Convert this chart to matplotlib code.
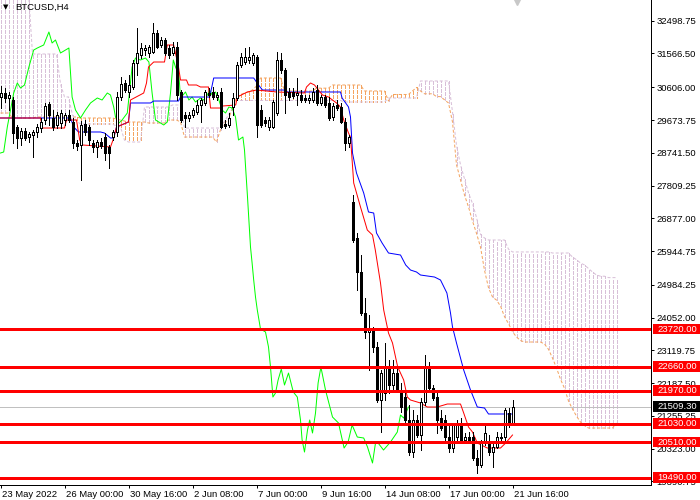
import matplotlib
matplotlib.use('Agg')
import matplotlib.pyplot as plt
from matplotlib.patches import Rectangle
from matplotlib.transforms import ScaledTranslation, blended_transform_factory
import numpy as np

plt.rcParams['font.family'] = ['Liberation Sans', 'DejaVu Sans']

symbol = 'BTCUSD,H4'

# H4 candles, bar 0 = 23 May 08:00 ... bar 128 = 21 Jun 16:00
opens = [30328, 30442, 30300, 30243, 29475, 29162, 29361, 29190, 29247, 29333,
         29446, 29674, 30129, 29731, 29532, 29589, 29674, 29816, 29617, 29020,
         28963, 29560, 29475, 29020, 28906, 29048, 29190, 28906, 29190, 29333,
         30328, 30727, 30471, 30613, 31296, 31523, 31665, 31580, 31609, 32149,
         31808, 31950, 31722, 31580, 31751, 30471, 29816, 29731, 29816, 29902,
         30101, 30158, 30442, 30471, 30328, 30471, 29560, 29532, 30044, 30300,
         31239, 31324, 31381, 31296, 31466, 29958, 29674, 29475, 29475, 29873,
         31381, 31096, 30471, 30471, 30385, 30385, 30300, 30243, 30243, 30527,
         30158, 30328, 30158, 29759, 30101, 30044, 29617, 29020, 27341, 26317,
         25350, 24183, 23643, 23699, 23216, 21708, 21907, 22618, 22135, 22476,
         21992, 21793, 21139, 20228, 21139, 20712, 21651, 22647, 22049, 21793,
         21196, 21139, 20655, 20342, 20655, 21054, 20570, 20655, 20655, 20058,
         19859, 20513, 20513, 20228, 20371, 20655, 20655, 21338, 21054]
highs = [30641, 30584, 30471, 30328, 29532, 29446, 29446, 29333, 29389, 29560,
         29731, 30158, 30186, 29958, 29902, 29958, 29873, 29958, 29731, 29105,
         29645, 29674, 29532, 29105, 29105, 29162, 29304, 28963, 29389, 30471,
         30897, 30812, 30954, 31381, 32291, 31865, 31808, 31808, 32434, 32234,
         32035, 32007, 31808, 31893, 31893, 30527, 29902, 29902, 30015, 30243,
         30300, 30527, 30584, 30613, 30471, 30584, 29674, 29873, 30442, 31324,
         31580, 31722, 31751, 31580, 31523, 30101, 29759, 29759, 30243, 31609,
         31580, 31153, 30584, 30584, 30869, 30527, 30385, 30385, 30584, 30670,
         30385, 30385, 30328, 30158, 30243, 30158, 29731, 29247, 27540, 26459,
         25833, 24610, 24126, 23785, 23358, 22561, 23330, 22846, 22846, 22618,
         22192, 21907, 21566, 21423, 21281, 21765, 22988, 22789, 22135, 21907,
         21423, 21281, 20997, 21054, 21139, 21196, 20769, 20797, 20797, 20285,
         20570, 21054, 20712, 20485, 20797, 20769, 21480, 21480, 21708]
lows = [30015, 30186, 29958, 29020, 28877, 28963, 29105, 29048, 28621, 29190,
        29333, 29560, 29532, 29389, 29446, 29446, 29532, 29617, 28877, 28820,
        27967, 29247, 28963, 28764, 28621, 28877, 28536, 28308, 29105, 29219,
        30243, 30471, 30328, 30556, 30954, 31438, 31523, 31466, 31580, 31722,
        31751, 31523, 31438, 31523, 30243, 29617, 29475, 29645, 29759, 29845,
        29617, 30101, 30328, 30271, 30243, 29446, 29446, 29475, 29816, 30243,
        31182, 31267, 31296, 31239, 29190, 29475, 29503, 29389, 29446, 29816,
        31011, 29873, 30243, 30300, 30101, 30186, 30186, 30158, 30186, 30101,
        30101, 30044, 29674, 29674, 29958, 29589, 28820, 28906, 26203, 24837,
        24126, 23472, 22561, 23074, 21651, 20797, 21708, 21907, 21992, 21936,
        21366, 21054, 20143, 20086, 20655, 20285, 21566, 21992, 21708, 20769,
        20854, 20570, 20228, 20228, 20570, 20513, 20513, 20513, 20001, 19631,
        19802, 20427, 20143, 19802, 20342, 20570, 20570, 20940, 20997]
closes = [30442, 30300, 30385, 29304, 29162, 29361, 29162, 29276, 29333, 29475,
          29617, 30072, 29816, 29475, 29816, 29873, 29816, 29674, 29020, 28934,
          29532, 29333, 29105, 28906, 29048, 28934, 28735, 28735, 29333, 30328,
          30698, 30527, 30670, 31296, 31580, 31722, 31722, 31751, 32149, 31751,
          31950, 31580, 31523, 31751, 30385, 29674, 29731, 29816, 29958, 30101,
          30243, 30471, 30385, 30328, 30385, 29475, 29503, 29731, 30300, 31239,
          31466, 31466, 31466, 31523, 29532, 29532, 29589, 29674, 30186, 31381,
          31096, 30385, 30328, 30357, 30442, 30243, 30243, 30300, 30471, 30158,
          30328, 30101, 29731, 30072, 30015, 29617, 29020, 29190, 26260, 25350,
          24183, 23643, 23756, 23216, 21708, 22476, 22618, 22135, 22476, 21992,
          21509, 21139, 20228, 21139, 20712, 21651, 22647, 22049, 21765, 21139,
          20911, 20655, 20342, 21054, 21054, 20570, 20655, 20570, 20058, 19859,
          20513, 20769, 20228, 20371, 20655, 20627, 21423, 21054, 21509.3]

# Ichimoku lines (bar position, price)
tenkan_x = [0, 10, 10.5, 16, 16.5, 19, 19.8, 20.5, 27.5, 28.3,
            29, 32, 32.5, 35.8, 36.5, 37, 38.3, 41, 41.7, 43.3,
            44.5, 45, 46.5, 47, 49, 50, 52, 52.5, 55, 55.5,
            58.8, 59.2, 61.7, 64, 69, 76, 76.5, 77.5, 78.5, 79.5,
            80.5, 82, 84, 85, 85.8, 87, 87.5, 88.3, 90, 91.7,
            93, 93.7, 95, 95.8, 97, 98, 99.3, 100.8, 101.7, 102.5,
            105, 106.7, 109.2, 111.7, 115, 115.8, 117, 118, 119.2, 121.7,
            125, 126.3, 128]
tenkan = [29731, 29731, 29446, 29446, 29674, 29674, 29105, 28963, 28906, 29162,
          29475, 29617, 30243, 30442, 30727, 31182, 31324, 31324, 31808, 31808,
          31182, 30812, 30812, 30670, 30670, 30613, 30613, 30015, 30015, 30072,
          30101, 30328, 30471, 30527, 30471, 30442, 30613, 30727, 30670, 30527,
          30385, 30328, 30158, 30044, 29674, 29304, 29190, 27882, 27199, 26544,
          26402, 25976, 25037, 24268, 23614, 23330, 22647, 22277, 21793, 21708,
          21623, 21509, 21509, 21594, 21594, 21338, 20940, 20797, 20485, 20342,
          20342, 20485, 20712]

kijun_x = [0, 17.5, 18.3, 19.5, 25, 26, 27.5, 28.3, 29, 32,
           32.5, 37.5, 38.3, 44.5, 45, 52.3, 53.3, 63.3, 64.5, 65.5,
           71.3, 71.7, 85, 85.4, 87, 87.5, 88, 89, 90.8, 92,
           93.3, 94, 95.4, 97, 100, 101.3, 102.5, 104, 105, 108.5,
           110, 111.6, 112.5, 113, 114, 115.8, 117.5, 119.2, 121, 122,
           128]
kijun = [29731, 29731, 29475, 29333, 29333, 29304, 29162, 29162, 29475, 29617,
         30158, 30158, 30214, 30214, 30328, 30328, 30869, 30869, 30670, 30527,
         30527, 30471, 30471, 30300, 30044, 29759, 28735, 28166, 27597, 27057,
         27028, 26459, 26175, 25890, 25833, 25549, 25406, 25350, 25264, 25207,
         25122, 24752, 24183, 23785, 23330, 22561, 21992, 21509, 21480, 21310,
         21310]

chikou_x = [0, 0.8, 1.7, 2.5, 3.3, 4.2, 5, 6, 7.1, 8.3,
            9.2, 10.8, 12.1, 12.9, 13.75, 15, 16.25, 17.1, 17.9, 18.75,
            20, 21.25, 22.5, 24.2, 25.4, 26.7, 27.5, 28.3, 28.75, 29.6,
            30.4, 31.7, 32.9, 33.75, 35, 36.25, 37.1, 37.9, 38.75, 40,
            40.8, 41.7, 42.5, 43.2, 43.75, 44.6, 45, 46.25, 47.1, 47.9,
            48.75, 50, 50.8, 51.7, 52.3, 52.9, 53.75, 54.6, 55.4, 56.25,
            57.1, 57.9, 58.75, 59.5, 60.6, 61, 61.75, 62.2, 62.5, 62.9,
            63.3, 63.75, 64.2, 65, 66.25, 67, 67.5, 68.1, 68.75, 69.4,
            70.2, 71, 72, 73.2, 74.2, 75, 75.4, 76, 76.75, 77.3,
            78, 78.75, 79.4, 80.1, 81.25, 83, 84.5, 85.9, 86.9, 87.9,
            89.2, 90.8, 91.75, 93, 93.75, 94.4, 95.75, 97.5, 99.2, 100,
            100.8, 102]
chikou = [28735, 28764, 29475, 29958, 30442, 30727, 30584, 30670, 31182, 31665,
          31722, 31808, 32178, 31865, 31950, 31580, 31665, 31722, 30328, 29958,
          29731, 29958, 30158, 30300, 30243, 30442, 30385, 30044, 29759, 29589,
          29674, 29873, 31182, 31438, 31381, 31438, 31324, 30442, 29674, 29589,
          29532, 29617, 30442, 31381, 31182, 30954, 30300, 30471, 30243, 30328,
          30186, 30300, 30243, 30385, 30527, 30385, 30471, 30243, 29958, 29873,
          30044, 30015, 29759, 29105, 29190, 28820, 27483, 26630, 26061, 25606,
          25122, 24638, 24268, 23728, 23643, 23216, 22647, 21793, 21907, 22277,
          22590, 22135, 22476, 21936, 21793, 21139, 20570, 20228, 20854, 21139,
          20769, 21338, 22192, 22647, 21992, 21224, 21054, 20342, 20513, 20997,
          20655, 20627, 20371, 19916, 20485, 20485, 20285, 20513, 20797, 21281,
          21196, 21509]

# cloud, one value per bar (0..154, runs 26 bars past the last candle)
span_a = ([29873] * 3 + [29731] * 6 + [29759] * 11 + [29731] * 9
          + [29700, 29674, 29645] + [29617] * 5 + [29589] * 5 + [29674] * 3 + [29617]
          + [29190] * 8 + [29048, 29400, 29590, 29674, 30044, 30300, 30400, 30440, 30471, 30530, 30640]
          + [30869] * 6 + [30500] * 8 + [30580] * 4 + [30670] * 8 + [30500] * 6 + [30214]
          + [30400] * 5 + [30500, 30600, 30500] + [30420] * 3 + [30340] * 2 + [30250, 30158]
          + [29617, 28400, 27970, 27540, 27200, 26800, 26450, 26060, 25400, 24900,
             24640, 24550, 24380, 24080, 23880, 23650, 23500, 23400]
          + [23358] * 5 + [23300, 23150, 22900, 22620, 22300, 22040, 21680, 21450, 21250, 21080, 20980]
          + [20911] * 7 + [21054])
span_b = ([33300] * 8 + [31552] * 7 + [30700] + [30330] * 2 + [29816, 29650] + [29560] * 9
          + [29500, 29475, 29100] + [29048] * 4 + [30044] * 7 + [30101] * 3 + [29446] * 10
          + [29640, 29816, 30030] + [30230] * 27 + [30186] * 11 + [30300] * 8 + [30784] * 8
          + [29900, 28950, 28400, 28000, 27600, 27300, 26900, 26420, 26317]
          + [26260] * 5 + [26000] + [25920] * 10 + [25890] * 5
          + [25776, 25700, 25606, 25549, 25450, 25350, 25264] + [25230] * 2 + [25190] * 3)

levels = [23720, 22660, 21970, 21030, 20510, 19490]
last_price = 21509.30

price_ticks = [32498.75, 31566.50, 30606.00, 29673.75, 28741.50, 27809.25, 26877.00,
               25944.75, 24984.25, 24052.00, 23119.75, 22187.50, 21255.25, 20323.00, 19390.75]
date_ticks = [0, 16, 32, 48, 64, 80, 96, 112, 128]
date_labels = ['23 May 2022', '26 May 00:00', '30 May 16:00', '2 Jun 08:00', '7 Jun 00:00',
               '9 Jun 16:00', '14 Jun 08:00', '17 Jun 00:00', '21 Jun 16:00']

ymin, ymax = 19290, 33088
px = 0.72  # one pixel in points at dpi 100

fig = plt.figure(figsize=(7, 5), dpi=100)
ax = fig.add_axes([0, 15 / 500, 651 / 700, 485 / 500])
ax.set_xlim(-0.125, 162.625)
ax.set_ylim(ymin, ymax)

# cloud hatching (crisp) and span lines
bars_c = np.arange(len(span_a))
sa = np.array(span_a)
sb = np.array(span_b)
cols = ['#F4A460' if a >= b else '#D8BFD8' for a, b in zip(sa, sb)]
ax.vlines(bars_c, sa, sb, colors=cols, linestyles=[(0, (3, 2))], lw=px,
          antialiaseds=False, zorder=1)
ax.plot(bars_c, sa, color='#F4A460', ls=(0, (3, 2)), lw=px, zorder=1.2)
ax.plot(bars_c, sb, color='#D8BFD8', ls=(0, (3, 2)), lw=px, zorder=1.2)

# last price line
ax.axhline(last_price, color='#C0C0C0', lw=px, zorder=1.5)

# ichimoku lines
ax.plot(chikou_x, chikou, color='#00FF00', lw=px, zorder=2)
ax.plot(kijun_x, kijun, color='#0000FF', lw=px, zorder=2.1)
ax.plot(tenkan_x, tenkan, color='#FF0000', lw=px, zorder=2.2)

# candles
o = np.array(opens)
h = np.array(highs)
l = np.array(lows)
c = np.array(closes)
bars = np.arange(len(o))
ax.vlines(bars, l, h, color='black', lw=px, antialiaseds=False, zorder=3)
body_col = ['white' if cc >= oo else 'black' for oo, cc in zip(o, c)]
ax.bar(bars, np.abs(c - o), bottom=np.minimum(o, c), width=0.5, color=body_col,
       edgecolor='black', linewidth=px, antialiased=False, zorder=3.5)

# horizontal levels
for lv in levels:
    ax.axhline(lv, color='#FF0000', lw=3 * px, antialiased=False, zorder=5)

# axes look
for s in ['left', 'top']:
    ax.spines[s].set_visible(False)
for s in ['right', 'bottom']:
    ax.spines[s].set_linewidth(px)
ax.yaxis.tick_right()
ax.set_yticks(price_ticks)
ax.set_yticklabels([f'{v:.2f}' for v in price_ticks])
ax.tick_params(axis='y', length=2.2, width=px, pad=1.5, labelsize=6.8)
ax.set_xticks(date_ticks)
ax.set_xticklabels(date_labels, ha='left')
ax.tick_params(axis='x', length=2.2, width=px, pad=1.5, labelsize=6.8)
shift = ScaledTranslation(2 / 100, 0, fig.dpi_scale_trans)
for lab in ax.get_xticklabels():
    lab.set_transform(lab.get_transform() + shift)

# price labels on the right
tr = blended_transform_factory(ax.transAxes, ax.transData)
step = (ymax - ymin) / 485
for lv, fc in [(v, '#FF0000') for v in levels] + [(last_price, 'black')]:
    ax.add_patch(Rectangle((1 + 2 / 651, lv - 5 * step), 47 / 651, 10.5 * step,
                           transform=tr, facecolor=fc, edgecolor='none',
                           clip_on=False, zorder=10))
    ax.text(1 + 6 / 651, lv, f'{lv:.2f}', transform=tr, ha='left', va='center',
            color='white', fontsize=6.8, clip_on=False, zorder=11)

# title and chart shift mark
ax.text(3 / 651, 1 - 7 / 485, '▼', transform=ax.transAxes, fontsize=5,
        ha='left', va='center', family=['DejaVu Sans'])
ax.text(15 / 651, 1 - 7 / 485, symbol, transform=ax.transAxes, fontsize=6.8,
        ha='left', va='center')
ax.plot([bars[-1] + 1.2], [ymax], marker='v', ms=7, color='#C8C8C8',
        clip_on=False, zorder=12)

plt.savefig('out.png', dpi=100)
